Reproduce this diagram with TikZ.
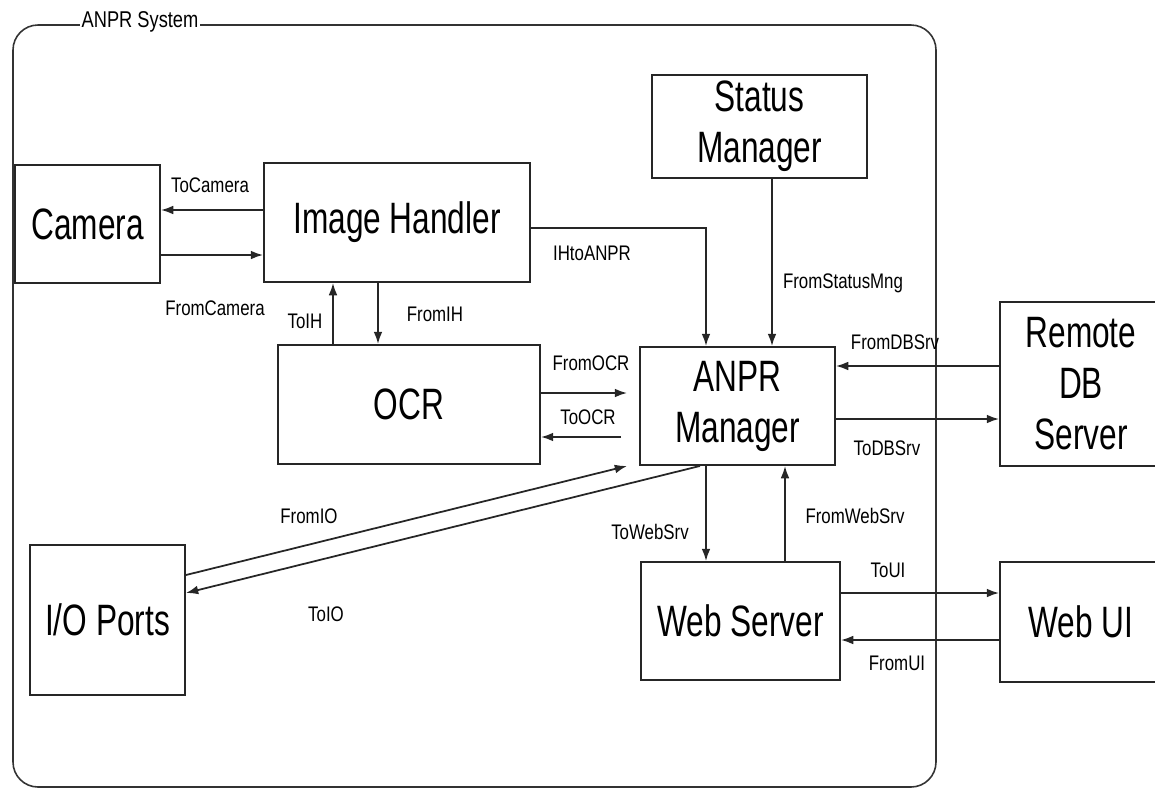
\documentclass[tikz,border=0pt]{standalone}
\usepackage{fontspec}
\setmainfont{Liberation Sans}
\newfontfamily\boxfont[FakeStretch=0.72]{Liberation Sans}
\newfontfamily\lblfont[FakeStretch=0.8]{Liberation Sans}
\usetikzlibrary{arrows.meta,calc}
\begin{document}
\begin{tikzpicture}[x=0.02cm,y=-0.02cm,
  box/.style={draw=black!85, line width=1.1pt, fill=white, inner sep=0pt, align=center,
    font=\boxfont\fontsize{25}{29}\selectfont},
  lbl/.style={font=\lblfont\fontsize{12}{14}\selectfont, inner sep=1pt},
  arr/.style={-{Latex[length=7pt,width=5pt]}, line width=1pt, draw=black!85},
  frame/.style={draw=black!80, line width=0.9pt, rounded corners=0.5cm}]
\useasboundingbox (0,0) rectangle (1155,789);
% outer system frame
\draw[frame] (13,25) rectangle (936,787);
\node[lbl, fill=white, font=\lblfont\fontsize{13}{15}\selectfont, inner sep=1pt] (sys) at (140,22) {ANPR System};
% boxes
\node[box, minimum width=2.9cm, minimum height=2.36cm] (cam) at (87.5,224) {Camera};
\node[box, minimum width=5.32cm, minimum height=2.38cm] (ih) at (397,222.5) {Image Handler};
\node[box, minimum width=4.3cm, minimum height=2.06cm] (stat) at (759.5,126.5) {Status\\Manager};
\node[box, minimum width=5.24cm, minimum height=2.38cm] (ocr) at (409,404.5) {OCR};
\node[box, minimum width=3.9cm, minimum height=2.36cm] (anpr) at (737.5,406) {ANPR\\Manager};
\node[box, minimum width=3.24cm, minimum height=3.28cm] (db) at (1081,384) {Remote\\DB\\Server};
\node[box, minimum width=3.98cm, minimum height=2.36cm] (web) at (740.5,621) {Web Server};
\node[box, minimum width=3.24cm, minimum height=2.4cm] (ui) at (1081,622) {Web UI};
\node[box, minimum width=3.1cm, minimum height=3.0cm] (io) at (107.5,620) {I/O Ports};
% connectors
\draw[arr] (ih.west |- 0,210) -- (cam.east |- 0,210);
\draw[arr] (cam.east |- 0,255) -- (ih.west |- 0,255);
\draw[arr] (ih.east |- 0,228) -| (anpr.north -| 706,0);
\draw[arr] (stat.south -| 772,0) -- (anpr.north -| 772,0);
\draw[arr] (ocr.north -| 333,0) -- (ih.south -| 333,0);
\draw[arr] (ih.south -| 378,0) -- (ocr.north -| 378,0);
\draw[arr, shorten >=0.24cm] (ocr.east |- 0,393) -- (anpr.west |- 0,393);
\draw[arr, shorten <=0.36cm] (anpr.west |- 0,437) -- (ocr.east |- 0,437);
\draw[arr] (io.east |- 0,575) -- ($(anpr.south west)+(-12,0)$);
\draw[arr] (anpr.south -| 700,0) -- (io.east |- 0,593);
\draw[arr] (anpr.south -| 706,0) -- (web.north -| 706,0);
\draw[arr] (web.north -| 785,0) -- (anpr.south -| 785,0);
\draw[arr] (db.west |- 0,366) -- (anpr.east |- 0,366);
\draw[arr] (anpr.east |- 0,419) -- (db.west |- 0,419);
\draw[arr] (web.east |- 0,593) -- (ui.west |- 0,593);
\draw[arr] (ui.west |- 0,640) -- (web.east |- 0,640);
% labels
\node[lbl] (lToCam) at (210,185) {ToCamera};
\node[lbl] (lFromCam) at (215,308) {FromCamera};
\node[lbl] (lIH) at (592,253) {IHtoANPR};
\node[lbl] (lStat) at (843,283) {FromStatusMng};
\node[lbl] (lToIH) at (305,321) {ToIH};
\node[lbl] (lFromIH) at (435,314) {FromIH};
\node[lbl] (lFromOCR) at (591,363) {FromOCR};
\node[lbl] (lToOCR) at (588,417) {ToOCR};
\node[lbl] (lFromDB) at (895,342) {FromDBSrv};
\node[lbl] (lToDB) at (887,448) {ToDBSrv};
\node[lbl] (lToWeb) at (650,532) {ToWebSrv};
\node[lbl] (lFromWeb) at (855,516) {FromWebSrv};
\node[lbl] (lToUI) at (888,570) {ToUI};
\node[lbl] (lFromUI) at (897,663) {FromUI};
\node[lbl] (lFromIO) at (309,516) {FromIO};
\node[lbl] (lToIO) at (326,614) {ToIO};
\end{tikzpicture}
\end{document}
